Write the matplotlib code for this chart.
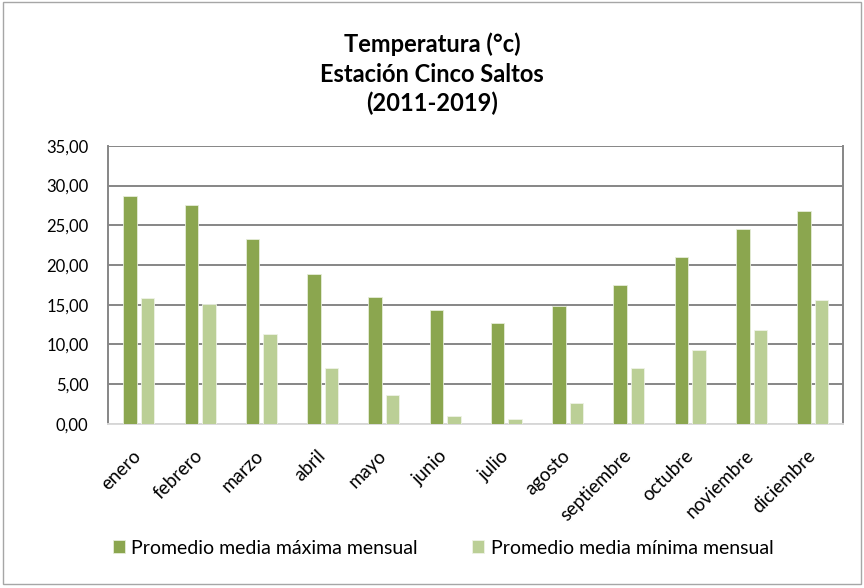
import matplotlib
matplotlib.use("Agg")
import matplotlib.pyplot as plt
import numpy as np
from matplotlib.patches import Rectangle
from matplotlib.ticker import FuncFormatter

meses = ["enero", "febrero", "marzo", "abril", "mayo", "junio", "julio",
         "agosto", "septiembre", "octubre", "noviembre", "diciembre"]
maxima = [28.7, 27.6, 23.3, 18.9, 15.95, 14.4, 12.7, 14.8, 17.5, 21.0, 24.55, 26.75]
minima = [15.9, 15.05, 11.35, 7.05, 3.6, 1.0, 0.6, 2.65, 7.05, 9.3, 11.8, 15.6]
serie_max = "Promedio media máxima mensual"
serie_min = "Promedio media mínima mensual"
titulo = "Temperatura (°c)\nEstación Cinco Saltos\n(2011-2019)"

plt.rcParams['font.family'] = ['Lato', 'DejaVu Sans']

fig = plt.figure(figsize=(8.64, 5.88), dpi=100)
ax = fig.add_axes([0.125, 0.279, 0.851, 0.473])

x = np.arange(len(meses))
w = 0.22
c_max = "#8BA64F"
c_min = "#BBCF96"
ax.bar(x - 0.14, maxima, w, color=c_max, edgecolor="#E6EDD9", linewidth=0.6,
       label=serie_max, zorder=3)
ax.bar(x + 0.145, minima, w, color=c_min, edgecolor="#EEF3E6", linewidth=0.6,
       label=serie_min, zorder=3)

ax.set_xlim(-0.5, len(meses) - 0.5)
ax.set_ylim(0, 35)
ax.set_yticks(np.arange(0, 35.1, 5))
ax.yaxis.set_major_formatter(FuncFormatter(lambda v, p: f"{v:.2f}".replace(".", ",")))
ax.grid(axis="y", color="#868686", linewidth=1.4, zorder=0)
ax.set_axisbelow(True)
ax.set_xticks(x)
ax.set_xticklabels(meses, rotation=45, ha="right", va="center", rotation_mode="anchor",
                   fontsize=13.5)
ax.tick_params(axis="both", length=0, colors="#000000")
ax.tick_params(axis="y", labelsize=12, pad=14)
ax.tick_params(axis="x", pad=21)
for s in ["left", "right"]:
    ax.spines[s].set_color("#868686")
    ax.spines[s].set_linewidth(1.4)
ax.spines["top"].set_visible(False)
ax.spines["bottom"].set_color("#D9D9D9")
ax.spines["bottom"].set_linewidth(1.4)

fig.text(0.5, 0.874, titulo, ha="center", va="center", fontsize=17,
         fontweight="bold", linespacing=1.33)

fig.legend(loc="center", bbox_to_anchor=(0.513, 0.068), ncol=2, frameon=False,
           fontsize=14, handlelength=0.6, handleheight=0.6, columnspacing=2.8,
           handletextpad=0.35)

fig.patches.append(Rectangle((0.003, 0.006), 0.994, 0.99, transform=fig.transFigure,
                             fill=False, edgecolor="#A6A6A6", linewidth=1.0))

fig.savefig("out.png", dpi=100, facecolor="white")
